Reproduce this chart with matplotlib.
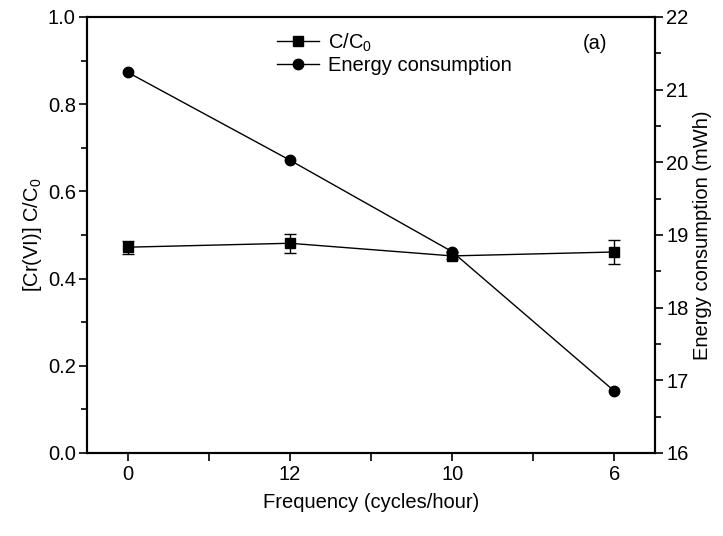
import matplotlib
matplotlib.use("Agg")
import matplotlib.pyplot as plt
from matplotlib.ticker import MultipleLocator
from matplotlib.lines import Line2D

plt.rcParams['font.family'] = ['Liberation Sans', 'DejaVu Sans']
plt.rcParams['mathtext.fontset'] = 'custom'
plt.rcParams['mathtext.rm'] = 'Liberation Sans'
plt.rcParams['mathtext.it'] = 'Liberation Sans:italic'
plt.rcParams['mathtext.bf'] = 'Liberation Sans:bold'

categories = ['0', '12', '10', '6']
c_ratio = [0.472, 0.481, 0.452, 0.461]
c_err = [0.015, 0.022, 0.008, 0.028]
energy = [21.24, 20.03, 18.77, 16.85]

fig = plt.figure(figsize=(7.23, 5.36), dpi=100)
ax = fig.add_axes([0.1203, 0.1549, 0.7857, 0.8134])
ax2 = ax.twinx()

x = list(range(len(categories)))
ax.errorbar(x, c_ratio, yerr=c_err, fmt='-s', color='black', markersize=7,
            linewidth=1, capsize=4, elinewidth=1, capthick=1)
ax2.plot(x, energy, '-o', color='black', markersize=7.5, linewidth=1)

ax.set_xlim(-0.25, 3.25)
ax.set_ylim(0, 1.0)
ax2.set_ylim(16, 22)
ax.set_xticks(x)
ax.set_xticklabels(categories)
ax.xaxis.set_minor_locator(MultipleLocator(0.5))
ax.yaxis.set_major_locator(MultipleLocator(0.2))
ax.yaxis.set_minor_locator(MultipleLocator(0.1))
ax2.yaxis.set_major_locator(MultipleLocator(1))
ax2.yaxis.set_minor_locator(MultipleLocator(0.5))
ax.yaxis.set_major_formatter(matplotlib.ticker.FormatStrFormatter('%.1f'))

fs = 14.5
for a in (ax, ax2):
    a.tick_params(which='major', direction='out', length=6, width=1.2,
                  labelsize=fs, pad=2)
    a.tick_params(which='minor', direction='out', length=4, width=1.2)
    for s in a.spines.values():
        s.set_linewidth(1.5)
ax.tick_params(axis='x', which='minor', length=6)
ax.tick_params(axis='x', which='major', pad=3)

ax.set_xlabel('Frequency (cycles/hour)', fontsize=fs, labelpad=6)
ax.set_ylabel(r'[Cr(VI)] C/C$_\mathregular{0}$', fontsize=fs, labelpad=3)
ax2.set_ylabel('Energy consumption (mWh)', fontsize=fs, labelpad=3)

h1 = Line2D([], [], color='black', marker='s', markersize=7, linewidth=1)
h2 = Line2D([], [], color='black', marker='o', markersize=7.5, linewidth=1)
ax.legend([h1, h2], [r'C/C$_\mathregular{0}$', 'Energy consumption'],
          loc='upper left', bbox_to_anchor=(0.31, 0.999), frameon=False,
          fontsize=fs, handlelength=2.1, handletextpad=0.4,
          labelspacing=0.1, borderpad=0.2)

ax.text(0.895, 0.94, '(a)', transform=ax.transAxes, fontsize=fs,
        ha='center', va='center')

fig.savefig('out.png', dpi=100)
